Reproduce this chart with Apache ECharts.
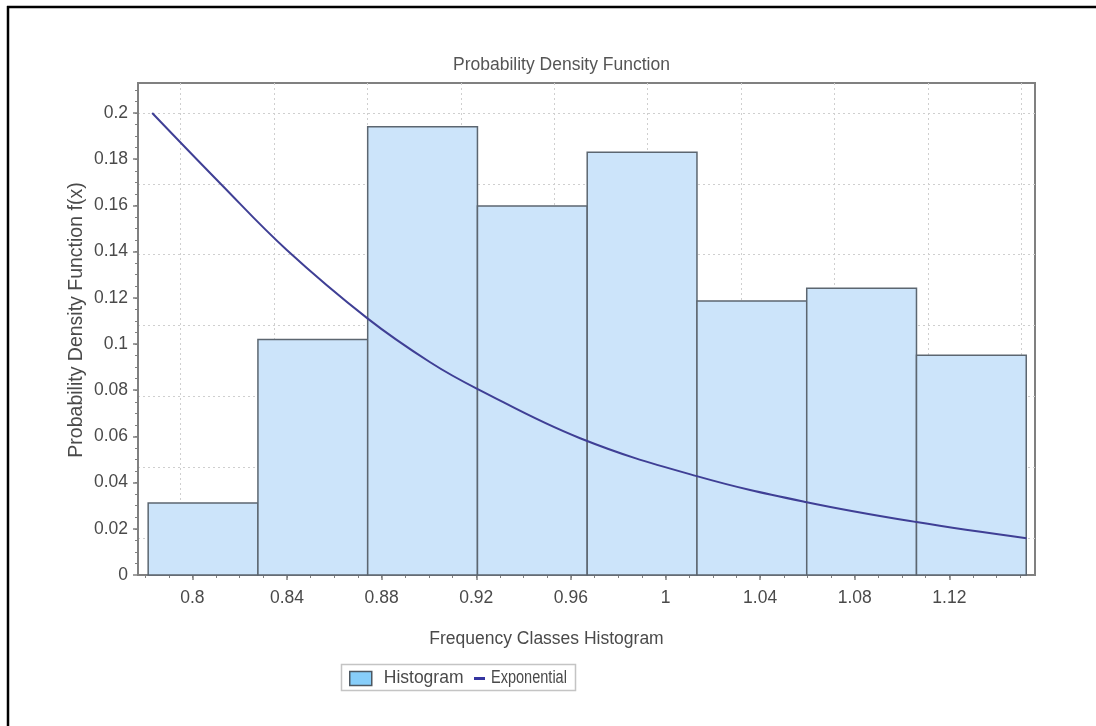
<!DOCTYPE html>
<html>
<head>
<meta charset="utf-8">
<title>Probability Density Function</title>
<script src="https://cdn.jsdelivr.net/npm/echarts@6/dist/echarts.min.js"></script>
<style>
  html, body { margin: 0; padding: 0; background: #ffffff; }
  #chart { width: 1096px; height: 726px; }
</style>
</head>
<body>
<div id="chart"></div>
<script>
// Histogram classes: left/right bin edges and the density of each class
const binEdges = [0.7813, 0.8277, 0.8741, 0.9205, 0.9669, 1.0133, 1.0597, 1.1061, 1.1525];
const binDensity = [0.0312, 0.1020, 0.1941, 0.1597, 0.1830, 0.1186, 0.1241, 0.0951];

// Fitted exponential density, sampled along the x range
const expX = [0.7830, 0.8117, 0.8399, 0.8740, 0.9005, 0.9204, 0.9639, 1.0132, 1.0597, 1.1061, 1.1526];
const expY = [0.2000, 0.1696, 0.1407, 0.1111, 0.0921, 0.0806, 0.0592, 0.0428, 0.0315, 0.0229, 0.0159];

// Axis ticks
const xTicks = [0.8, 0.84, 0.88, 0.92, 0.96, 1.0, 1.04, 1.08, 1.12];
const yTicks = [0, 0.02, 0.04, 0.06, 0.08, 0.1, 0.12, 0.14, 0.16, 0.18, 0.2];
const xMinorTicks = [];
for (let i = 78; i <= 115; i++) xMinorTicks.push(i / 100);
const yMinorTicks = [];
for (let i = 1; i <= 42; i++) yMinorTicks.push(i / 200);

const X_MIN = 0.777, X_MAX = 1.1562;
const Y_MIN = 0, Y_MAX = 0.213;

const histData = binDensity.map((d, i) => [binEdges[i], binEdges[i + 1], d]);
const expData = expX.map((x, i) => [x, expY[i]]);

const FONT = '"Liberation Sans", Arial, sans-serif';
const TEXT = '#4a4a4a';
const AXIS = '#808080';
const GRIDLINE = { show: true, lineStyle: { color: '#cfcfcf', type: [2, 3], width: 1 } };
const fmt = v => String(+Number(v).toFixed(4));

function renderBin(params, api) {
  const p0 = api.coord([api.value(0), api.value(2)]);
  const p1 = api.coord([api.value(1), 0]);
  return {
    type: 'rect',
    shape: { x: p0[0], y: p0[1], width: p1[0] - p0[0], height: p1[1] - p0[1] },
    style: { fill: '#cce4fa', stroke: '#5c6670', lineWidth: 1.5 }
  };
}

const chart = echarts.init(document.getElementById('chart'), null, { renderer: 'canvas' });

chart.setOption({
  backgroundColor: '#ffffff',
  animation: false,
  textStyle: { fontFamily: FONT },
  title: {
    text: 'Probability Density Function',
    left: 453, top: 56, padding: 0,
    textStyle: { fontFamily: FONT, fontSize: 17.5, fontWeight: 'normal', color: '#555555' }
  },
  grid: [
    { left: 138, right: 61, top: 83, bottom: 151, show: true, borderColor: AXIS, borderWidth: 2, backgroundColor: 'transparent' },
    // dotted horizontal guides
    { left: 138, right: 61, top: 113, bottom: 187.8 },
    // dotted vertical guides
    { left: 180.7, right: 74.7, top: 83, bottom: 151 }
  ],
  xAxis: [
    {
      type: 'value', gridIndex: 0, min: X_MIN, max: X_MAX,
      axisLine: { show: true, onZero: false, lineStyle: { color: AXIS, width: 2 } },
      axisTick: { show: true, length: 5, customValues: xTicks, lineStyle: { color: AXIS, width: 1.5 } },
      axisLabel: { customValues: xTicks, formatter: fmt, margin: 14, fontSize: 17.5, color: TEXT, fontFamily: FONT },
      splitLine: { show: false }
    },
    {
      type: 'value', gridIndex: 0, min: X_MIN, max: X_MAX, position: 'bottom',
      axisLine: { show: false },
      axisTick: { show: true, length: 3, customValues: xMinorTicks, lineStyle: { color: AXIS, width: 1 } },
      axisLabel: { show: false },
      splitLine: { show: false }
    },
    { type: 'value', gridIndex: 1, min: 0, max: 1, show: false },
    {
      type: 'value', gridIndex: 2, min: 0, max: 9, interval: 1,
      axisLine: { show: false }, axisTick: { show: false }, axisLabel: { show: false },
      splitLine: GRIDLINE
    }
  ],
  yAxis: [
    {
      type: 'value', gridIndex: 0, min: Y_MIN, max: Y_MAX,
      axisLine: { show: true, lineStyle: { color: AXIS, width: 2 } },
      axisTick: { show: true, length: 5, customValues: yTicks, lineStyle: { color: AXIS, width: 1.5 } },
      axisLabel: { customValues: yTicks, formatter: fmt, margin: 10, fontSize: 17.5, color: TEXT, fontFamily: FONT },
      splitLine: { show: false }
    },
    {
      type: 'value', gridIndex: 0, min: Y_MIN, max: Y_MAX, position: 'left',
      axisLine: { show: false },
      axisTick: { show: true, length: 3, customValues: yMinorTicks, lineStyle: { color: AXIS, width: 1 } },
      axisLabel: { show: false },
      splitLine: { show: false }
    },
    {
      type: 'value', gridIndex: 1, min: 0, max: 6, interval: 1,
      axisLine: { show: false }, axisTick: { show: false }, axisLabel: { show: false },
      splitLine: GRIDLINE
    },
    { type: 'value', gridIndex: 2, min: 0, max: 1, show: false }
  ],
  legend: [
    {
      left: 349, top: 669.5, padding: 0, itemWidth: 22, itemHeight: 14,
      selectedMode: false,
      data: [{ name: 'Histogram', icon: 'rect', itemStyle: { color: '#87cefa', borderColor: '#4d5862', borderWidth: 1.5 } }],
      textStyle: { fontSize: 17.5, color: TEXT, fontFamily: FONT, padding: [0, 0, 0, 7] }
    },
    {
      // icon only; the condensed caption is drawn beside it
      left: 474, top: 677, padding: 0, itemWidth: 11, itemHeight: 3,
      selectedMode: false,
      formatter: () => '',
      data: [{ name: 'Exponential', icon: 'rect', itemStyle: { color: '#3535a0' } }],
      textStyle: { fontSize: 17.5, color: TEXT, fontFamily: FONT }
    }
  ],
  graphic: [
    // outer frame
    { type: 'line', shape: { x1: 8, y1: 6, x2: 8, y2: 726 }, style: { stroke: '#000', lineWidth: 2.5 }, silent: true },
    { type: 'line', shape: { x1: 7, y1: 7, x2: 1096, y2: 7 }, style: { stroke: '#000', lineWidth: 2.5 }, silent: true },
    // legend box
    { type: 'rect', shape: { x: 341.5, y: 664.5, width: 234, height: 26 }, style: { fill: '#fff', stroke: '#c4c4c4', lineWidth: 1.5 }, z: -1, silent: true },
    // condensed legend caption
    {
      type: 'text', x: 491, y: 678.5, scaleX: 0.83, silent: true, z: 10,
      style: { text: 'Exponential', fontSize: 17.5, fontFamily: FONT, fill: TEXT, align: 'left', verticalAlign: 'middle' }
    },
    // axis names
    {
      type: 'text', x: 546.5, y: 639, silent: true,
      style: { text: 'Frequency Classes Histogram', fontSize: 17.5, fontFamily: FONT, fill: TEXT, align: 'center', verticalAlign: 'middle' }
    },
    {
      type: 'text', x: 77, y: 320, rotation: Math.PI / 2, silent: true,
      style: { text: 'Probability Density Function f(x)', fontSize: 19.5, fontFamily: FONT, fill: TEXT, align: 'center', verticalAlign: 'middle' }
    }
  ],
  series: [
    {
      name: 'Histogram', type: 'custom', xAxisIndex: 0, yAxisIndex: 0,
      renderItem: renderBin, data: histData, encode: { x: [0, 1], y: 2 }, z: 2
    },
    {
      name: 'Exponential', type: 'line', xAxisIndex: 0, yAxisIndex: 0,
      data: expData, smooth: 0.4, showSymbol: false, symbol: 'none',
      lineStyle: { color: '#3f3f95', width: 2 }, itemStyle: { color: '#3535a0' }, z: 3
    }
  ]
});
</script>
</body>
</html>
